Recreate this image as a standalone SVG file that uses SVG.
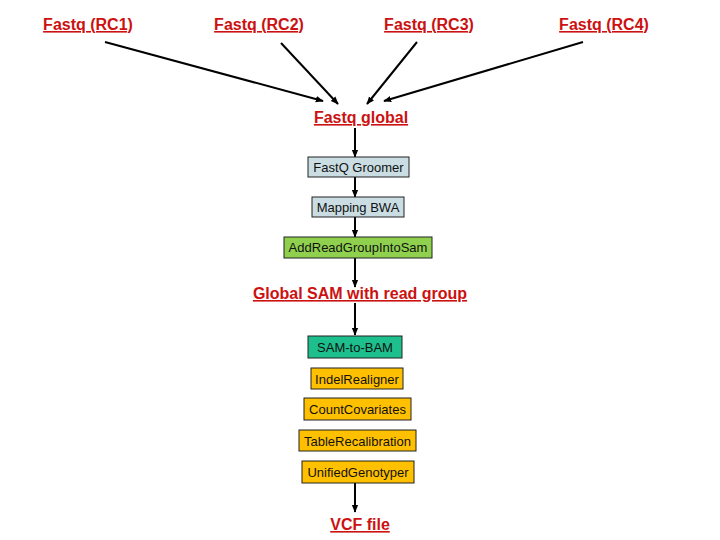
<svg xmlns="http://www.w3.org/2000/svg" width="720" height="540" viewBox="0 0 720 540">
<defs>
<marker id="ah" viewBox="0 0 10 10" refX="9" refY="5" markerWidth="8" markerHeight="8" orient="auto-start-reverse" markerUnits="userSpaceOnUse">
<path d="M0,1 L10,5 L0,9 z" fill="#000"/>
</marker>
<style>
.lbl{font-family:"Liberation Sans",Arial,sans-serif;font-weight:bold;font-size:16px;fill:#cc1111;text-decoration:underline;text-anchor:middle}
.box{stroke:#222;stroke-width:1}
.bt{font-family:"Liberation Sans",Arial,sans-serif;font-size:13px;fill:#111;text-anchor:middle}
.c{stroke:#000;stroke-width:2;fill:none;marker-end:url(#ah)}
</style>
</defs>
<rect width="720" height="540" fill="#fff"/>
<g id="connectors">
<line class="c" x1="105" y1="42" x2="323" y2="101"/>
<line class="c" x1="281" y1="43" x2="338" y2="104"/>
<line class="c" x1="417" y1="42" x2="367" y2="104"/>
<line class="c" x1="583" y1="42" x2="384" y2="101"/>
<line class="c" x1="355" y1="128" x2="355" y2="157"/>
<line class="c" x1="355" y1="177" x2="355" y2="197"/>
<line class="c" x1="355" y1="217" x2="355" y2="237"/>
<line class="c" x1="355" y1="258" x2="355" y2="287"/>
<line class="c" x1="355" y1="303" x2="355" y2="335"/>
<line class="c" x1="355" y1="483" x2="355" y2="512"/>
</g>
<g id="rc1"><text class="lbl" x="88" y="30">Fastq (RC1)</text></g>
<g id="rc2"><text class="lbl" x="259" y="30">Fastq (RC2)</text></g>
<g id="rc3"><text class="lbl" x="429" y="30">Fastq (RC3)</text></g>
<g id="rc4"><text class="lbl" x="604" y="30">Fastq (RC4)</text></g>
<g id="fastq-global"><text class="lbl" x="361" y="123">Fastq global</text></g>
<g id="groomer"><rect class="box" x="308" y="157" width="101" height="20" fill="#c9dde3"/><text class="bt" x="358.5" y="172">FastQ Groomer</text></g>
<g id="bwa"><rect class="box" x="312" y="197" width="92" height="20" fill="#c9dde3"/><text class="bt" x="358" y="212">Mapping BWA</text></g>
<g id="addrg"><rect class="box" x="284" y="237" width="148" height="21" fill="#8fd14f"/><text class="bt" x="358" y="252">AddReadGroupIntoSam</text></g>
<g id="global-sam"><text class="lbl" x="360" y="299">Global SAM with read group</text></g>
<g id="sam2bam"><rect class="box" x="308" y="336" width="94" height="22" fill="#1dbf8c"/><text class="bt" x="355" y="352">SAM-to-BAM</text></g>
<g id="indel"><rect class="box" x="311" y="368" width="92" height="21" fill="#ffc000"/><text class="bt" x="357" y="383.5">IndelRealigner</text></g>
<g id="countcov"><rect class="box" x="304" y="398" width="107" height="22" fill="#ffc000"/><text class="bt" x="357.5" y="414">CountCovariates</text></g>
<g id="tablerecal"><rect class="box" x="299" y="430" width="117" height="21" fill="#ffc000"/><text class="bt" x="357.5" y="445.5">TableRecalibration</text></g>
<g id="unified"><rect class="box" x="302" y="461" width="112" height="22" fill="#ffc000"/><text class="bt" x="358" y="477">UnifiedGenotyper</text></g>
<g id="vcf"><text class="lbl" x="360" y="530">VCF file</text></g>
</svg>
